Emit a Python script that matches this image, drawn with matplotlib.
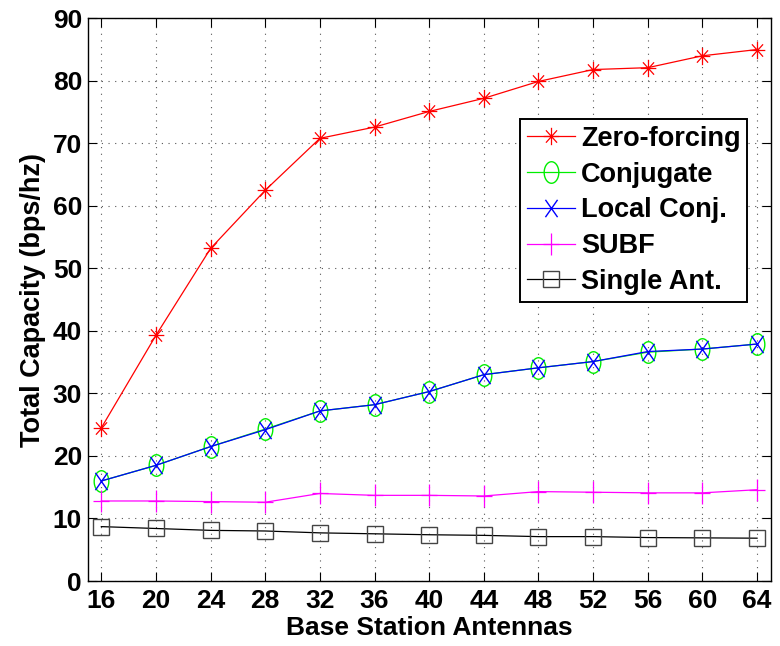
import matplotlib
matplotlib.use("Agg")
import matplotlib.pyplot as plt
import numpy as np
from matplotlib.path import Path

antennas = [16, 20, 24, 28, 32, 36, 40, 44, 48, 52, 56, 60, 64]
zero_forcing = [24.5, 39.3, 53.2, 62.5, 70.8, 72.6, 75.1, 77.2, 79.9, 81.8, 82.1, 84.0, 85.0]
conjugate = [16.0, 18.5, 21.5, 24.3, 27.2, 28.2, 30.3, 33.0, 34.1, 35.1, 36.6, 37.1, 37.9]
local_conj = [16.0, 18.5, 21.5, 24.2, 27.2, 28.2, 30.3, 33.0, 34.1, 35.1, 36.7, 37.1, 37.9]
subf = [12.8, 12.8, 12.7, 12.6, 14.0, 13.7, 13.7, 13.6, 14.3, 14.2, 14.1, 14.1, 14.6]
single_ant = [8.7, 8.4, 8.1, 8.0, 7.7, 7.55, 7.4, 7.3, 7.1, 7.1, 6.95, 6.9, 6.85]
labels = ['Zero-forcing', 'Conjugate', 'Local Conj.', 'SUBF', 'Single Ant.']
xticks = antennas
yticks = [0, 10, 20, 30, 40, 50, 60, 70, 80, 90]

plt.rcParams['font.family'] = ['Liberation Sans', 'DejaVu Sans']
plt.rcParams['font.weight'] = 'bold'


def seg_marker(segs):
    verts, codes = [], []
    for (a, b) in segs:
        verts += [a, b]
        codes += [Path.MOVETO, Path.LINETO]
    return Path(verts, codes)


# stretched (taller than wide) markers, as in the reference
sx = 0.7
star_m = seg_marker([((-0.9, 0), (0.9, 0)), ((0, -1), (0, 1)),
                     ((-0.64, -0.71), (0.64, 0.71)), ((-0.64, 0.71), (0.64, -0.71))])
x_m = seg_marker([((-sx, -1), (sx, 1)), ((-sx, 1), (sx, -1))])
plus_m = seg_marker([((-sx, 0), (sx, 0)), ((0, -1), (0, 1))])
t = np.linspace(0, 2 * np.pi, 60)
ell_m = Path(np.column_stack([0.68 * np.cos(t), np.sin(t)]), closed=True)

fig = plt.figure(figsize=(7.8, 6.46), dpi=100)
ax = fig.add_axes([0.1124, 0.1006, 0.8757, 0.8711])

ax.plot(antennas, zero_forcing, color='#ff0000', marker=star_m, markersize=12.5, lw=0.9,
        markeredgewidth=0.9, label=labels[0], clip_on=False, zorder=5)
ax.plot(antennas, conjugate, color='#00ee00', marker=ell_m, markersize=15.5, markerfacecolor='none',
        markeredgewidth=1.0, lw=0.9, label=labels[1], clip_on=False, zorder=5)
ax.plot(antennas, local_conj, color='#0000ff', marker=x_m, markersize=12.5, markeredgewidth=1.0, lw=0.9,
        label=labels[2], clip_on=False, zorder=6)
ax.plot(antennas, subf, color='#ff00ff', marker=plus_m, markersize=16.5, markeredgewidth=0.9, lw=0.9,
        label=labels[3], clip_on=False, zorder=5)
ax.plot(antennas, single_ant, color='black', marker='s', markersize=11.5, markerfacecolor='none',
        markeredgecolor='#444444', markeredgewidth=1.0, lw=0.9, label=labels[4], clip_on=False, zorder=5)

ax.set_xlim(15, 65)
ax.set_ylim(0, 90)
ax.set_xticks(xticks)
ax.set_yticks(yticks)
ax.tick_params(direction='in', top=True, right=True, labelsize=19, length=6.5, width=0.8)
ax.tick_params(axis='x', pad=6)
ax.tick_params(axis='y', pad=4)
for lab in ax.get_xticklabels() + ax.get_yticklabels():
    lab.set_fontweight('bold')
ax.grid(True, color='#555555', linestyle=(0, (1, 5)), linewidth=0.8)
for s in ax.spines.values():
    s.set_linewidth(1.0)

ax.set_xlabel('Base Station Antennas', fontsize=19, fontweight='bold', labelpad=2)
ax.set_ylabel('Total Capacity (bps/hz)', fontsize=19.5, fontweight='bold', labelpad=5)

handles, labs = ax.get_legend_handles_labels()
leg = ax.legend(handles, labs, loc='upper right', bbox_to_anchor=(0.9657, 0.821),
                prop={'size': 19.5, 'weight': 'bold'}, frameon=True, fancybox=False,
                edgecolor='black', handlelength=1.8, handletextpad=0.2, labelspacing=0.36,
                borderpad=0.25, borderaxespad=0, framealpha=1)
leg.get_frame().set_linewidth(1.4)
leg.set_zorder(10)

fig.savefig('out.png', dpi=100)
